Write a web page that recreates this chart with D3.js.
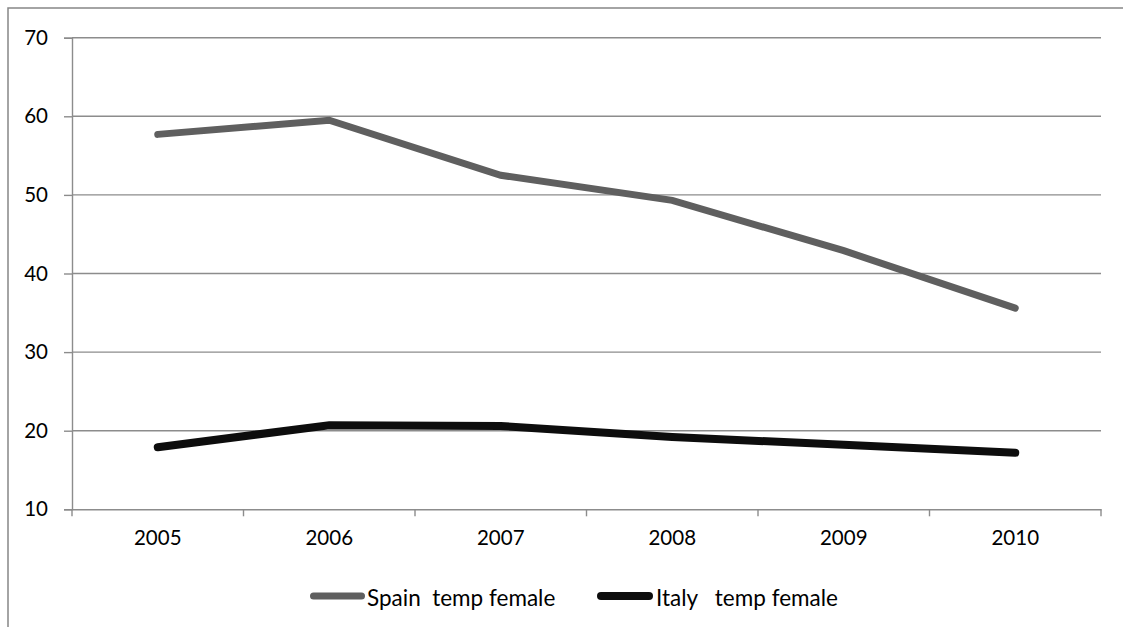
<!DOCTYPE html>
<html>
<head>
<meta charset="utf-8">
<script src="https://cdn.jsdelivr.net/npm/d3@7"></script>
<style>
  html, body { margin: 0; padding: 0; background: #fff; }
  svg { display: block; }
  text { font-family: Lato, "Open Sans", sans-serif; fill: #000; }
</style>
</head>
<body>
<svg id="chart" width="1123" height="627"></svg>
<script>
// Share of temporary contracts among employed women, 2005–2010
const years = ["2005", "2006", "2007", "2008", "2009", "2010"];
const spainTempFemale = [57.7, 59.5, 52.5, 49.3, 42.9, 35.6];
const italyTempFemale = [17.9, 20.7, 20.6, 19.2, 18.2, 17.2];
const yTicks = [10, 20, 30, 40, 50, 60, 70];
const seriesNames = ["Spain  temp female", "Italy   temp female"];
const seriesColors = ["#5f5f5f", "#0d0d0d"];

const svg = d3.select("#chart");
const W = 1123, H = 627;
const plot = { left: 72, right: 1101, top: 37.7, bottom: 509.3 };

// outer frame
svg.append("rect")
  .attr("x", 8).attr("y", 8)
  .attr("width", W).attr("height", H)
  .attr("fill", "none").attr("stroke", "#868686").attr("stroke-width", 1.5);

const x = d3.scaleBand().domain(years).range([plot.left, plot.right]).padding(0);
const y = d3.scaleLinear().domain([10, 70]).range([plot.bottom, plot.top]);

// horizontal gridlines
svg.append("g").selectAll("line")
  .data(yTicks.filter(t => t !== 10))
  .join("line")
  .attr("x1", plot.left).attr("x2", plot.right)
  .attr("y1", d => y(d)).attr("y2", d => y(d))
  .attr("stroke", "#8c8c8c").attr("stroke-width", 1.4);

// y axis
const yAxis = svg.append("g")
  .attr("transform", `translate(${plot.left},0)`)
  .call(d3.axisLeft(y).tickValues(yTicks).tickSize(8).tickPadding(16).tickFormat(d3.format("d")));
yAxis.select(".domain").attr("stroke", "#8c8c8c").attr("stroke-width", 1.4);
yAxis.selectAll(".tick line").attr("stroke", "#8c8c8c").attr("stroke-width", 1.4);
yAxis.selectAll(".tick text")
  .attr("font-family", "Lato, 'Open Sans', sans-serif")
  .attr("font-size", 20.5).attr("fill", "#000");

// x axis: labels centred in each category, ticks on category boundaries
const xAxis = svg.append("g")
  .attr("transform", `translate(0,${plot.bottom})`)
  .call(d3.axisBottom(x).tickSize(0).tickPadding(21).tickSizeOuter(0));
xAxis.select(".domain").attr("stroke", "#8c8c8c").attr("stroke-width", 1.4);
xAxis.selectAll(".tick text")
  .attr("font-family", "Lato, 'Open Sans', sans-serif")
  .attr("font-size", 20.5).attr("fill", "#000");

const boundaries = years.map(d => x(d)).concat([x.range()[1]]);
svg.append("g").selectAll("line")
  .data(boundaries)
  .join("line")
  .attr("x1", d => d).attr("x2", d => d)
  .attr("y1", plot.bottom).attr("y2", plot.bottom + 7)
  .attr("stroke", "#8c8c8c").attr("stroke-width", 1.4);

// series lines
const line = d3.line()
  .x((d, i) => x(years[i]) + x.bandwidth() / 2)
  .y(d => y(d));

const series = [spainTempFemale, italyTempFemale];
const widths = [7, 8];
svg.append("g").selectAll("path")
  .data(series)
  .join("path")
  .attr("d", d => line(d))
  .attr("fill", "none")
  .attr("stroke", (d, i) => seriesColors[i])
  .attr("stroke-width", (d, i) => widths[i])
  .attr("stroke-linecap", "round")
  .attr("stroke-linejoin", "miter");

// legend
const legendItems = [
  { x0: 313.5, x1: 361.5, tx: 367 },
  { x0: 601, x1: 649, tx: 656 }
];
const legend = svg.append("g");
legendItems.forEach((it, i) => {
  legend.append("line")
    .attr("x1", it.x0).attr("x2", it.x1)
    .attr("y1", 596).attr("y2", 596)
    .attr("stroke", seriesColors[i])
    .attr("stroke-width", widths[i])
    .attr("stroke-linecap", "round");
  legend.append("text")
    .attr("x", it.tx).attr("y", 606)
    .attr("font-size", 22.5)
    .style("white-space", "pre")
    .attr("xml:space", "preserve")
    .text(seriesNames[i]);
});
</script>
</body>
</html>
